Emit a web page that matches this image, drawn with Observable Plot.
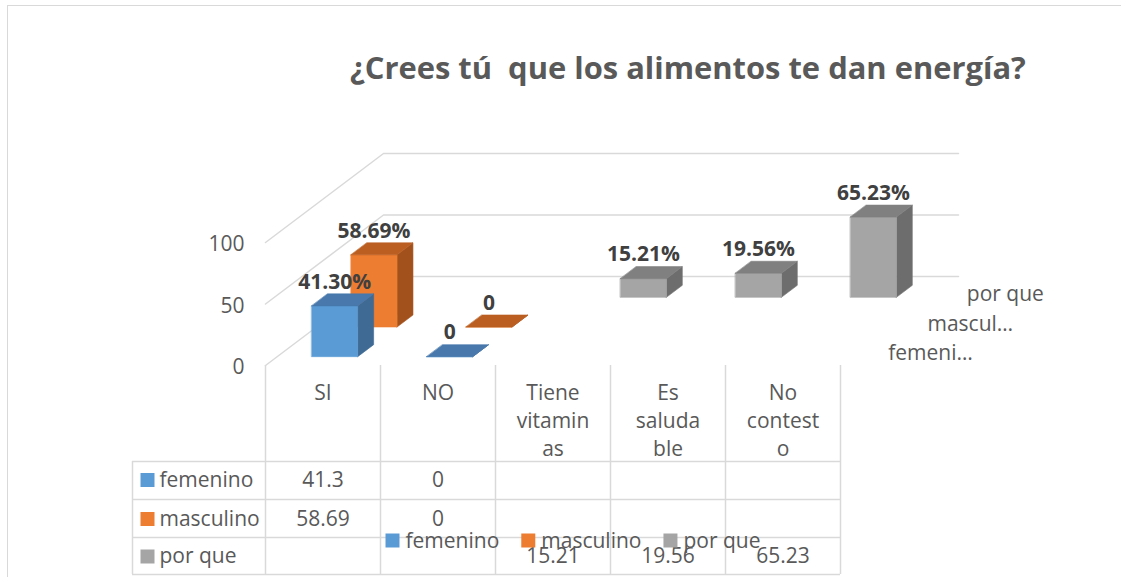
<!DOCTYPE html>
<html>
<head>
<meta charset="utf-8">
<script src="https://cdn.jsdelivr.net/npm/d3@7"></script>
<script src="https://cdn.jsdelivr.net/npm/@observablehq/plot@0.6"></script>
<style>
  html, body { margin: 0; padding: 0; background: #fff; }
  #wrap { position: relative; width: 1121px; height: 577px; overflow: hidden; font-family: "Open Sans", sans-serif; }
  #frame { position: absolute; left: 7px; top: 5px; width: 1130px; height: 590px; border-left: 1.5px solid #D9D9D9; border-top: 1.5px solid #D9D9D9; box-sizing: border-box; }
  #title { position: absolute; left: 350px; top: 50px; margin: 0; white-space: pre; font-weight: 700; color: #595959; line-height: 1; }
  #chart { position: absolute; left: 0; top: 110px; }
</style>
</head>
<body>
<div id="wrap">
  <div id="frame"></div>
  <div id="title"></div>
  <div id="chart"></div>
</div>
<script>
// ---------------- DATA ----------------
const titleText = "¿Crees tú  que los alimentos te dan energía?";
const categories = ["SI", "NO", "Tiene vitaminas", "Es saludable", "No contesto"];
const categoryLabels = ["SI", "NO", "Tiene\nvitamin\nas", "Es\nsaluda\nble", "No\ncontest\no"];
const seriesNames = ["femenino", "masculino", "por que"];
const seriesAxisLabels = ["femeni…", "mascul…", "por que"];
const femenino = [41.3, 0, null, null, null];
const masculino = [58.69, 0, null, null, null];
const porQue = [null, null, 15.21, 19.56, 65.23];
const yTicks = [0, 50, 100];

// ---------------- STYLE ----------------
const frontColors = ["#5B9BD5", "#ED7D31", "#A5A5A5"];
const topColors = ["#4878AC", "#BA5E22", "#808080"];
const sideColors = ["#3E6A94", "#A3511C", "#6D6D6D"];
const textColor = "#595959";
const labelColor = "#404040";
const gridColor = "#D9D9D9";
const FONT = "'Open Sans', sans-serif";
const FS = 21;

// ---------------- LAYOUT ----------------
const W = 1121, TOP = 110, H = 577 - TOP;
const X0 = 265, PXU = 115;     // front-left floor corner, px per category
const Y0 = 365, PXV = 1.23;    // value 0 at the front, px per value unit
const pu = px => (px - X0) / PXU;      // page x -> category units
const pv = py => (Y0 - py) / PXV;      // page y -> value units
const KX = 118 / PXU, KV = 89 / PXV;   // oblique depth projection per unit depth
const P = (u, v, d) => [u + d * KX, v + d * KV];
const BAR_W = 0.4, SLOT = 1 / seriesNames.length, BAR_D = 0.135;
const nCat = categories.length;

const values = [femenino, masculino, porQue];
const bars = [];
values.forEach((arr, s) => arr.forEach((v, i) => { if (v != null) bars.push({ s, i, v }); }));
const depthFront = s => (s + 0.5) * SLOT - BAR_D / 2;

// faces of the 3D columns (back rows first)
const faces = [];
bars.slice().sort((a, b) => b.s - a.s || a.i - b.i).forEach(b => {
  const u1 = b.i + 0.5 - BAR_W / 2, u2 = u1 + BAR_W;
  const d1 = depthFront(b.s), d2 = d1 + BAR_D;
  const poly = (name, color, pts) => pts.forEach(([u, v, d]) => {
    const [x, y] = P(u, v, d);
    faces.push({ id: `${b.s}-${b.i}-${name}`, x, y, color });
  });
  poly("side", sideColors[b.s], [[u2, 0, d1], [u2, 0, d2], [u2, b.v, d2], [u2, b.v, d1]]);
  poly("front", frontColors[b.s], [[u1, 0, d1], [u2, 0, d1], [u2, b.v, d1], [u1, b.v, d1]]);
  poly("top", topColors[b.s], [[u1, b.v, d1], [u2, b.v, d1], [u2, b.v, d2], [u1, b.v, d2]]);
});

const fmt = v => v === 0 ? "0" : v.toFixed(2) + "%";
const dataLabels = bars.map(b => {
  const [x, y] = P(b.i + 0.5, b.v, depthFront(b.s));
  return { x, y, text: fmt(b.v) };
});

const grid = yTicks.flatMap(t => [[0, t, 0], [0, t, 1], [nCat, t, 1]].map(([u, v, d]) => {
  const [x, y] = P(u, v, d);
  return { t, x, y };
}));

const seriesAxis = seriesAxisLabels.map((text, s) => {
  const [x, y] = P(nCat, 0, (s + 0.5) * SLOT);
  return { x, y, text };
});

// data table
const tableRowLines = [461, 499, 537, 574];
const rowCenters = [479.5, 518.5, 556];
const cells = [];
values.forEach((arr, s) => arr.forEach((v, i) => { if (v != null) cells.push({ x: i + 0.5, y: pv(rowCenters[s]), text: String(v) }); }));

// legend (flowing layout using text widths)
const ctx = document.createElement("canvas").getContext("2d");
ctx.font = `${FS}px ${FONT}`;
let lx = 385;
const legend = seriesNames.map((name, s) => {
  const item = { sx: lx + 7, tx: lx + 20, name, color: frontColors[s] };
  lx += 20 + ctx.measureText(name).width + 22;
  return item;
});
const LEG_Y = 541;

// title auto-fit to reference width
(function () {
  const t = document.getElementById("title");
  t.textContent = titleText;
  ctx.font = `bold 30px ${FONT}`;
  const w = ctx.measureText(titleText).width;
  const fs = 30 * 676 / w;
  t.style.fontSize = fs + "px";
  t.style.fontFamily = FONT;
  t.style.top = (79 - 0.888 * fs) + "px";
})();

const txt = { fontSize: FS, fill: textColor };

const chart = Plot.plot({
  width: W,
  height: H,
  margin: 0,
  x: { type: "linear", domain: [pu(0), pu(W)], axis: null },
  y: { type: "linear", domain: [pv(577), pv(TOP)], axis: null },
  color: { type: "identity" },
  style: { fontFamily: FONT, background: "transparent", overflow: "visible" },
  marks: [
    // gridlines on the side and back walls
    Plot.line(grid, { x: "x", y: "y", z: "t", stroke: gridColor, strokeWidth: 1.5 }),
    // data table grid
    Plot.ruleX(d3.range(nCat + 1), { x: d => d, y1: pv(365), y2: pv(574), stroke: gridColor, strokeWidth: 1.5 }),
    Plot.ruleX([pu(132)], { x: d => d, y1: pv(461), y2: pv(574), stroke: gridColor, strokeWidth: 1.5 }),
    Plot.ruleY(tableRowLines, { y: d => pv(d), x1: pu(132), x2: nCat, stroke: gridColor, strokeWidth: 1.5 }),
    // 3D columns
    Plot.line(faces, { x: "x", y: "y", z: "id", fill: "color", stroke: "color", strokeWidth: 0.6, curve: "linear-closed" }),
    // data labels
    Plot.text(dataLabels, { x: "x", y: "y", text: "text", dy: -24, fontSize: FS, fontWeight: "bold", fill: labelColor }),
    // value axis labels
    Plot.text(yTicks, { x: 0, y: d => d, text: d => String(d), textAnchor: "end", dx: -21, dy: 2, ...txt }),
    // series (depth) axis labels
    Plot.text(seriesAxis, { x: "x", y: "y", text: "text", textAnchor: "start", dx: 28, dy: 3, ...txt }),
    // category labels (table header)
    Plot.text(categoryLabels, { x: (d, i) => i + 0.5, y: pv(379.5), text: d => d, lineAnchor: "top", lineHeight: 28 / FS, ...txt }),
    // table row keys and names
    Plot.dot(seriesNames, { x: pu(147), y: (d, s) => pv(rowCenters[s]), symbol: "square", r: 7.9, fill: (d, s) => frontColors[s], stroke: null }),
    Plot.text(seriesNames, { x: pu(159), y: (d, s) => pv(rowCenters[s]), text: d => d, textAnchor: "start", ...txt }),
    // table values
    Plot.text(cells, { x: "x", y: "y", text: "text", ...txt }),
    // legend
    Plot.dot(legend, { x: d => pu(d.sx), y: pv(LEG_Y - 1), symbol: "square", r: 7.9, fill: "color", stroke: null }),
    Plot.text(legend, { x: d => pu(d.tx), y: pv(LEG_Y), text: "name", textAnchor: "start", ...txt })
  ]
});
document.getElementById("chart").appendChild(chart);
</script>
</body>
</html>
